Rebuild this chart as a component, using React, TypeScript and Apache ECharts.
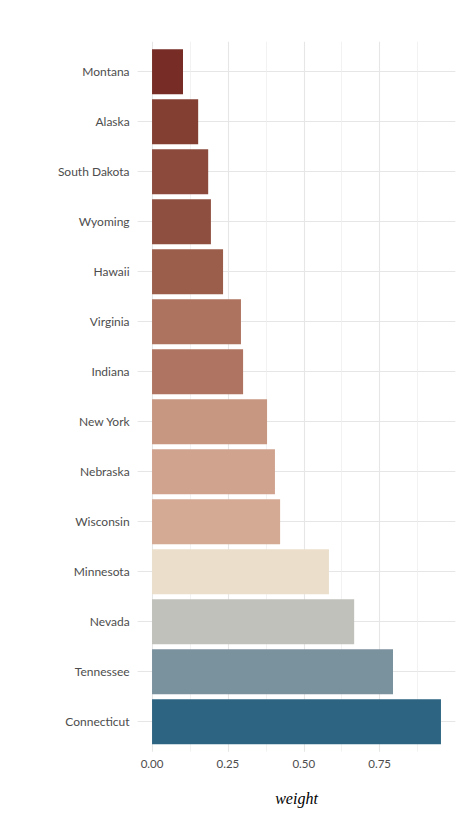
import React, { useEffect, useRef } from "react";
import * as echarts from "echarts";

const categories = [
  "Montana",
  "Alaska",
  "South Dakota",
  "Wyoming",
  "Hawaii",
  "Virginia",
  "Indiana",
  "New York",
  "Nebraska",
  "Wisconsin",
  "Minnesota",
  "Nevada",
  "Tennessee",
  "Connecticut",
];

const weights = [
  0.102, 0.152, 0.185, 0.194, 0.234, 0.293, 0.3, 0.379, 0.405, 0.422, 0.583,
  0.666, 0.794, 0.952,
];

const barColors = [
  "#772d25",
  "#843f33",
  "#8b4a3c",
  "#8f4f40",
  "#9b5e4b",
  "#ad735f",
  "#b07562",
  "#c89782",
  "#d0a38f",
  "#d4aa95",
  "#ebdfcc",
  "#c1c1bb",
  "#7a919e",
  "#2d6482",
];

const xTickLabels = ["0.00", "0.25", "0.50", "0.75"];

const X_MIN = -0.0476;
const X_MAX = 0.9996;

export default function App() {
  const ref = useRef<HTMLDivElement>(null);

  useEffect(() => {
    if (!ref.current) return;
    const chart = echarts.init(ref.current, null, { renderer: "svg" });
    const font = "Lato, 'Noto Sans', sans-serif";
    const grid = "#e6e6e6";
    chart.setOption({
      animation: false,
      backgroundColor: "#ffffff",
      grid: [
        { left: 137.6, right: 19.6, top: 71.7, bottom: 105.3 },
        { left: 152.05, right: 19.6, top: 41.7, bottom: 75.3 },
      ],
      xAxis: [
        {
          gridIndex: 0,
          type: "value",
          min: X_MIN,
          max: X_MAX,
          axisLine: { show: false },
          axisTick: { show: false },
          axisLabel: { show: false },
          splitLine: { show: false },
          name: "weight",
          nameLocation: "middle",
          nameGap: 69,
          nameTextStyle: {
            fontFamily: "'Liberation Serif', 'DejaVu Serif', serif",
            fontStyle: "italic",
            fontSize: 16,
            color: "#000000",
          },
        },
        {
          gridIndex: 1,
          type: "value",
          min: 0,
          max: X_MAX,
          interval: 0.25,
          axisLine: { show: false },
          axisTick: { show: false },
          axisLabel: {
            show: true,
            margin: 6,
            color: "#4d4d4d",
            fontFamily: font,
            fontSize: 11.5,
            showMaxLabel: false,
            formatter: (v: number) => {
              const idx = Math.round(v / 0.25);
              return Math.abs(v - idx * 0.25) < 1e-6 && idx < xTickLabels.length
                ? xTickLabels[idx]
                : "";
            },
          },
          splitLine: {
            show: true,
            showMaxLine: false,
            lineStyle: { color: grid, width: 1.1 },
          },
          minorTick: { show: false, splitNumber: 2 },
          minorSplitLine: {
            show: true,
            lineStyle: { color: "#ececec", width: 0.7 },
          },
        },
      ],
      yAxis: [
        {
          gridIndex: 0,
          type: "category",
          data: categories,
          inverse: true,
          boundaryGap: false,
          axisLine: { show: false },
          axisTick: { show: false },
          axisLabel: {
            margin: 8,
            color: "#4d4d4d",
            fontFamily: font,
            fontSize: 12,
          },
          splitLine: { show: true, lineStyle: { color: grid, width: 1.1 } },
        },
        {
          gridIndex: 1,
          type: "value",
          show: false,
          splitLine: { show: false },
        },
      ],
      series: [
        {
          type: "bar",
          xAxisIndex: 0,
          yAxisIndex: 0,
          clip: false,
          barWidth: "90%",
          data: weights.map((w, i) => ({
            value: w,
            itemStyle: { color: barColors[i] },
          })),
        },
      ],
    });
    return () => chart.dispose();
  }, []);

  return <div ref={ref} style={{ width: 475, height: 827, margin: -8 }} />;
}
